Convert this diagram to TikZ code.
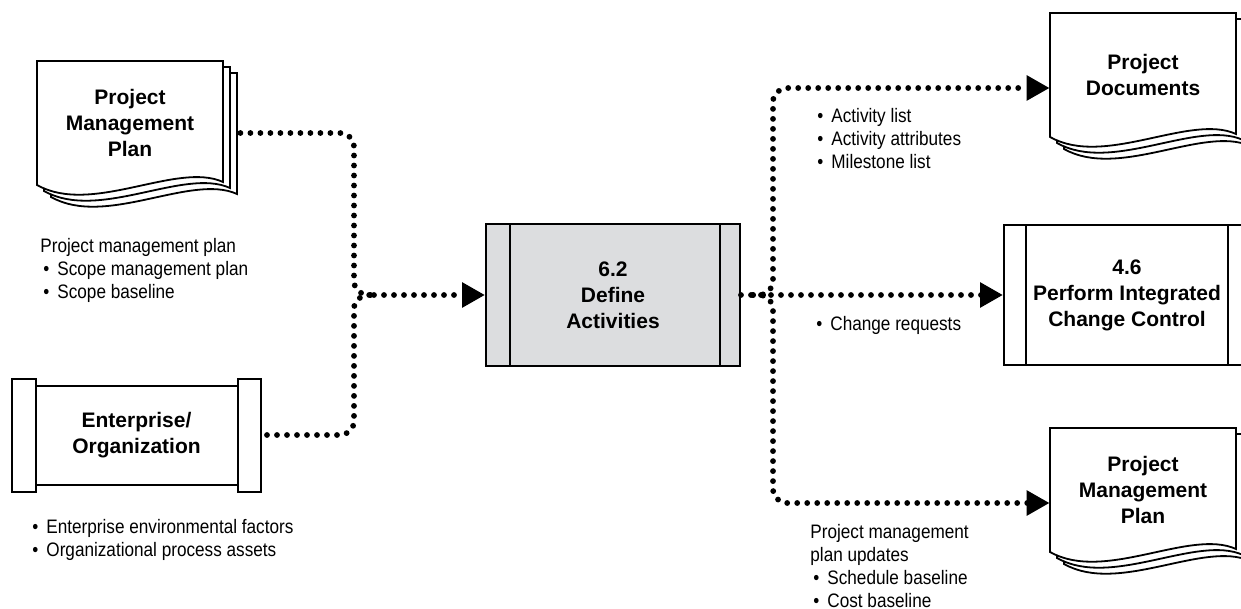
\documentclass[tikz,border=0pt]{standalone}
\usepackage{fontspec}
\setmainfont{Liberation Sans}
\newfontfamily\narrowfont{Liberation Sans}[FakeStretch=0.88]
\usepackage{tikz}
\usetikzlibrary{calc, arrows.meta}

\definecolor{processgrey}{RGB}{220,221,223}

% one sheet of a document, top left corner at #1
\newcommand{\docsheet}[1]{%
	\draw [sheet] #1 -- ++(186,0) -- ++(0,121) .. controls ($ #1 + (140,100) $) and ($ #1 + (55,155) $) .. ($ #1 + (0,124) $) -- cycle;
}
\newcommand{\listdot}{\hspace{1.5pt}\textbullet\hspace{4pt}}

\begin{document}
\begin{tikzpicture}[x=0.5pt, y=-0.5pt,
		title/.style = {font=\fontsize{10.5}{13}\selectfont\bfseries, align=center},
		listing/.style = {font=\narrowfont\fontsize{9.75}{11.5}\selectfont, align=left, anchor=north west, inner sep=0pt},
		sheet/.style = {draw, line width=0.9pt, fill=white},
		process/.style = {draw, line width=1pt, title},
		flow/.style = {line width=2.9pt, line cap=round, dash pattern=on 0pt off 5pt, rounded corners=7pt},
		feed/.style = {flow, -{Triangle[length=11.5pt, width=12pt]}}]
		
		\useasboundingbox (0,0) rectangle (1241,609);
		\clip (0,0) rectangle (1241,609);
		
		%inputs
		\docsheet{(51,73)}
		\docsheet{(44,67)}
		\docsheet{(37,61)}
		\node [title, minimum width=93pt, minimum height=62pt] (pmp input) at (130,123) {Project\\Management\\Plan};
		
		\node [process, minimum width=123.5pt, minimum height=49.5pt] (enterprise) at (136.5,435) {Enterprise/\\Organization};
		\draw [line width=1pt, fill=white] ($ (enterprise.north west) + (0,-6) $) rectangle ($ (enterprise.south west) + (24,6) $);
		\draw [line width=1pt, fill=white] ($ (enterprise.north east) + (-23,-6) $) rectangle ($ (enterprise.south east) + (0,6) $);
		
		%process
		\node [process, fill=processgrey, minimum width=127pt, minimum height=70.5pt] (define) at (613,295) {6.2\\Define\\Activities};
		\draw [line width=1pt] ($ (define.north west) + (25,0) $) -- ($ (define.south west) + (25,0) $);
		\draw [line width=1pt] ($ (define.north east) + (-21,0) $) -- ($ (define.south east) + (-21,0) $);
		
		%outputs
		\docsheet{(1064,25)}
		\docsheet{(1057,19)}
		\docsheet{(1050,13)}
		\node [title, minimum width=93pt, minimum height=62pt] (project documents) at (1143,75) {Project\\Documents};
		
		\node [process, minimum width=123pt, minimum height=69.5pt] (change control) at (1127,295) {4.6\\Perform Integrated\\Change Control};
		\draw [line width=1pt] ($ (change control.north west) + (23,0) $) -- ($ (change control.south west) + (23,0) $);
		\draw [line width=1pt] ($ (change control.north east) + (-23,0) $) -- ($ (change control.south east) + (-23,0) $);
		
		\docsheet{(1064,440)}
		\docsheet{(1057,434)}
		\docsheet{(1050,428)}
		\node [title, minimum width=93pt, minimum height=62pt] (pmp update) at (1143,490) {Project\\Management\\Plan};
		
		%flows in
		\coordinate (merge) at (354,295);
		\coordinate (merge out) at (374,295);
		\draw [flow] ($ (pmp input.east) + (17,10) $) -| (merge) -- (merge out);
		\draw [flow] ($ (enterprise.east) + (6,0) $) -| (merge) -- (merge out);
		\draw [feed] (merge out) -- (define.west);
		
		%flows out
		\coordinate (split in) at (753,295);
		\coordinate (split) at (773,295);
		\draw [feed] (define.east) -- (change control.west);
		\draw [feed] (split in) -- (split) |- ($ (project documents.west) + (0,13) $);
		\draw [feed] (split in) -- (split) |- ($ (pmp update.west) + (0,13) $);
		
		%data items
		\node [listing] (pmp input items) at (40,238) {Project management plan\\\listdot Scope management plan\\\listdot Scope baseline};
		\node [listing] (enterprise items) at (29,519) {\listdot Enterprise environmental factors\\\listdot Organizational process assets};
		\node [listing] (document items) at (814,108) {\listdot Activity list\\\listdot Activity attributes\\\listdot Milestone list};
		\node [listing] (change items) at (813,316) {\listdot Change requests};
		\node [listing] (update items) at (810,524) {Project management\\plan updates\\\listdot Schedule baseline\\\listdot Cost baseline};
	\end{tikzpicture}
\end{document}
